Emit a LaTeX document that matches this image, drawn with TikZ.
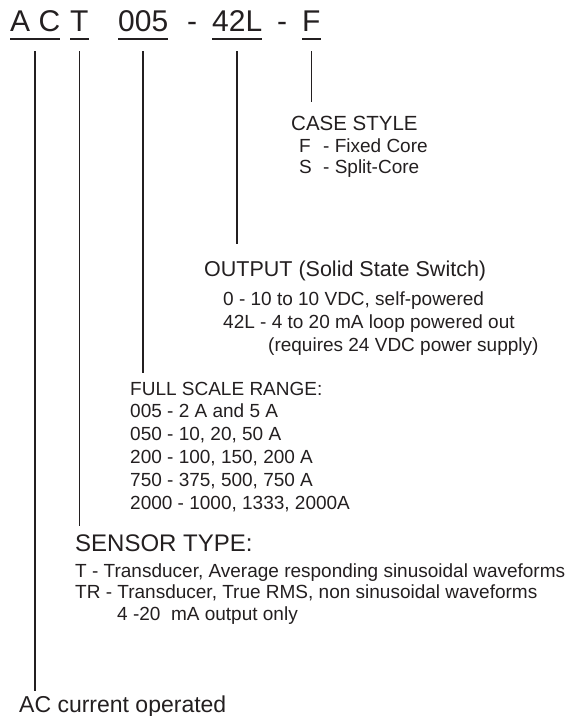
\documentclass[tikz,border=0pt]{standalone}
\usepackage{fontspec}
\setmainfont{Liberation Sans}
\usepackage{tikz}
\usetikzlibrary{calc}
\definecolor{inkgrey}{HTML}{231F20}
\tikzset{
  code/.style={font=\fontsize{30}{34}\selectfont, inkgrey, inner sep=0pt, anchor=base west},
  head/.style={font=\fontsize{20.5}{24}\selectfont, inkgrey, inner sep=0pt, anchor=base west},
  bighead/.style={font=\fontsize{24}{28}\selectfont, inkgrey, inner sep=0pt, anchor=base west},
  items/.style={font=\fontsize{19}{23}\selectfont, inkgrey, inner sep=0pt, anchor=base west, align=left},
  uline/.style={inkgrey, line width=1.6pt},
  stem/.style={inkgrey, line width=1.5pt},
}

\begin{document}
\begin{tikzpicture}[x=1pt, y=-1pt]
  \useasboundingbox (0,0) rectangle (569,716);

  % ===== part number along the top =====
  \node[code] (codeAC)    at (10,31)  {A C};
  \node[code] (codeT)     at (70,31)  {T};
  \node[code] (codeRange) at (118,31) {005};
  \node[code] (sepA)      at (187,31) {-};
  \node[code] (codeOut)   at (212,31) {42L};
  \node[code] (sepB)      at (277,31) {-};
  \node[code] (codeCase)  at (302,31) {F};

  \foreach \seg in {codeAC, codeT, codeRange, codeOut, codeCase}{
    \draw[uline] ([yshift=-8pt]\seg.base west) -- ([yshift=-8pt]\seg.base east);
  }

  % ===== CASE STYLE =====
  % (multi-line nodes: base = baseline of the last line)
  \node[head] (lblCase) at (291,130) {CASE STYLE};
  \node[items, font=\fontsize{19}{20.5}\selectfont] (caseItems) at (299,173)
       {\makebox[24pt][l]{F}- Fixed Core\\\makebox[24pt][l]{S}- Split-Core};

  % ===== OUTPUT =====
  \node[head, font=\fontsize{21.5}{25}\selectfont] (lblOut) at (204,276) {OUTPUT (Solid State Switch)};
  \node[items] (outItems) at (223,351)
       {0 - 10 to 10 VDC, self-powered\\
        42L - 4 to 20 mA loop powered out\\
        \hspace*{45pt}(requires 24 VDC power supply)};

  % ===== FULL SCALE RANGE =====
  \node[head, font=\fontsize{19}{23}\selectfont] (lblRange) at (130,395) {FULL SCALE RANGE:};
  \node[items] (rangeItems) at (130,509)
       {005 - 2 A and 5 A\\
        050 - 10, 20, 50 A\\
        200 - 100, 150, 200 A\\
        750 - 375, 500, 750 A\\
        2000 - 1000, 1333, 2000A};

  % ===== SENSOR TYPE =====
  \node[bighead] (lblSensor) at (75,551) {SENSOR TYPE:};
  \node[items, font=\fontsize{19}{21.5}\selectfont] (sensorItems) at (75,620)
       {T - Transducer, Average responding sinusoidal waveforms\\
        TR - Transducer, True RMS, non sinusoidal waveforms\\
        \hspace*{42pt}4 -20~~mA output only};

  % ===== bottom label =====
  \node[font=\fontsize{23}{27}\selectfont, inkgrey, inner sep=0pt, anchor=base west]
       (lblAC) at (19,712) {AC current operated};

  % ===== stems from the code down to each label =====
  \draw[stem] ($(codeCase.base)+(0,20)$)  -- ($(codeCase.base |- lblCase.north)+(0,-13)$);
  \draw[stem] ($(codeOut.base)+(0,20)$)   -- ($(codeOut.base |- lblOut.north)+(0,-16)$);
  \draw[stem] ($(codeRange.base)+(0,20)$) -- ($(codeRange.base |- lblRange.north)+(0,-9)$);
  \draw[stem] ($(codeT.base)+(0,20)$)     -- ($(codeT.base |- lblSensor.north)+(0,-8)$);
  \draw[stem] ($(codeAC.base)+(0,20)$)    -- ($(codeAC.base |- lblAC.north)+(0,-4)$);
\end{tikzpicture}
\end{document}
